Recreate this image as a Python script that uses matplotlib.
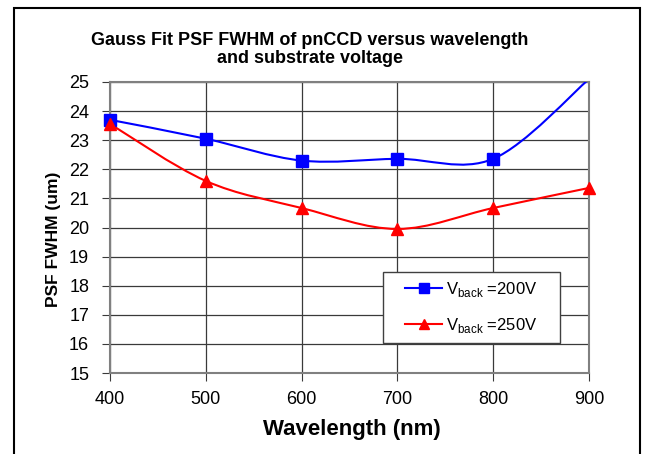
import matplotlib
matplotlib.use("Agg")
import matplotlib.pyplot as plt
from matplotlib.path import Path
from matplotlib.patches import PathPatch, Rectangle
from matplotlib.lines import Line2D
import numpy as np

plt.rcParams['font.family'] = ['Liberation Sans', 'DejaVu Sans']
plt.rcParams['mathtext.fontset'] = 'custom'
plt.rcParams['mathtext.rm'] = 'Liberation Sans'

wavelength = [400, 500, 600, 700, 800, 900]
fwhm_200v = [23.7, 23.05, 22.3, 22.36, 22.36, 25.1]
fwhm_250v = [23.56, 21.6, 20.67, 19.95, 20.67, 21.36]
series_labels = [r'V$_{\rm back}$ =200V', r'V$_{\rm back}$ =250V']
title = "Gauss Fit PSF FWHM of pnCCD versus wavelength\nand substrate voltage"
xlabel = "Wavelength (nm)"
ylabel = "PSF FWHM (um)"
xticks = [400, 500, 600, 700, 800, 900]
yticks = list(range(15, 26))


def smooth_path(xs, ys):
    xs = np.asarray(xs, float)
    ys = np.asarray(ys, float)
    n = len(xs)
    verts = [(xs[0], ys[0])]
    codes = [Path.MOVETO]
    for i in range(n - 1):
        i0 = max(i - 1, 0)
        i3 = min(i + 2, n - 1)
        c1 = (xs[i] + (xs[i + 1] - xs[i0]) / 6, ys[i] + (ys[i + 1] - ys[i0]) / 6)
        c2 = (xs[i + 1] - (xs[i3] - xs[i]) / 6, ys[i + 1] - (ys[i3] - ys[i]) / 6)
        verts += [c1, c2, (xs[i + 1], ys[i + 1])]
        codes += [Path.CURVE4] * 3
    return Path(verts, codes)


W, H = 659, 454
fig = plt.figure(figsize=(W / 100, H / 100), dpi=100)
ax = fig.add_axes([110 / W, 1 - 373 / H, (589 - 110) / W, (373 - 82) / H])

ax.set_xlim(400, 900)
ax.set_ylim(15, 25)
ax.set_xticks(xticks)
ax.set_yticks(yticks)
ax.grid(True, color='#3a3a3a', linewidth=0.9)
ax.set_axisbelow(True)
for s in ax.spines.values():
    s.set_color('#808080')
    s.set_linewidth(1.5)
ax.tick_params(axis='both', direction='out', length=6, color='#3a3a3a', labelsize=13)
ax.tick_params(axis='y', pad=9)
ax.tick_params(axis='x', pad=7)

styles = [('#0000ff', 's', 8), ('#ff0000', '^', 8)]
handles = []
for ys, (c, m, ms), lab in zip([fwhm_200v, fwhm_250v], styles, series_labels):
    p = PathPatch(smooth_path(wavelength, ys), facecolor='none', edgecolor=c, lw=1.5, zorder=3)
    ax.add_patch(p)
    ymax = ax.get_ylim()[1]
    mx = [x for x, y in zip(wavelength, ys) if y <= ymax]
    my = [y for y in ys if y <= ymax]
    ax.plot(mx, my, linestyle='none', marker=m, color=c, markersize=ms, zorder=4, clip_on=False)
    handles.append(Line2D([], [], color=c, lw=1.5, marker=m, markersize=7, label=lab))

# legend box
box = Rectangle((383 / W, 1 - 343 / H), (560 - 383) / W, (343 - 272) / H,
                transform=fig.transFigure, facecolor='white', edgecolor='#404040', lw=1.0, zorder=5)
fig.patches.append(box)
leg = fig.legend(handles=handles, loc='center', bbox_to_anchor=(471.5 / W, 1 - 307.5 / H),
                 bbox_transform=fig.transFigure, fontsize=12, frameon=False,
                 borderpad=0.2, labelspacing=1.05,
                 handlelength=2.2, handletextpad=0.25, borderaxespad=0)
leg.set_zorder(6)

ax.set_xlabel(xlabel, fontsize=16, fontweight='bold')
ax.xaxis.set_label_coords(0.505, -(419 - 373) / 291)
ax.set_ylabel(ylabel, fontsize=12.5, fontweight='bold')
ax.yaxis.set_label_coords((61 - 110) / 479, (373 - 239) / 291)

fig.text(310 / W, 1 - 49.5 / H, title, ha='center', va='center', fontsize=13,
         fontweight='bold', linespacing=1.05)

fig.patches.append(Rectangle((14 / W, -0.05), (640 - 14) / W, 1 - 8 / H + 0.05,
                             transform=fig.transFigure, fill=False, edgecolor='black', lw=1.5))

fig.savefig("out.png", dpi=100)
